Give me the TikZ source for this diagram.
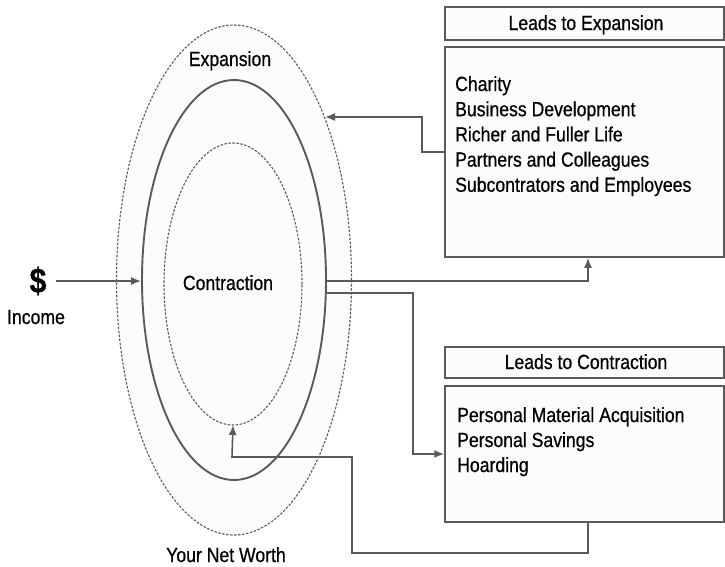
\documentclass[tikz,border=0pt]{standalone}
\usepackage{fontspec}
\setmainfont[FakeStretch=0.86,FakeBold=0.6]{Liberation Sans}
\usetikzlibrary{arrows.meta,shapes.geometric}
\definecolor{ln}{HTML}{5A5A5A}
\definecolor{fl}{HTML}{FCFCFC}
\tikzset{
  ring/.style={ellipse,draw=ln,fill=fl,inner sep=0pt},
  dashring/.style={ring,line width=1.1pt,dash pattern=on 2.5pt off 1.5pt},
  solidring/.style={ring,line width=1.9pt},
  box/.style={draw=ln,fill=fl,line width=1.5pt,minimum width=279pt,inner sep=0pt},
  conn/.style={draw=ln,line width=1.6pt,-{Latex[length=10pt,width=8pt]}},
  lbl/.style={font=\fontsize{20.5}{24}\selectfont,inner sep=0pt,anchor=base},
  lst/.style={font=\fontsize{20.5}{25.2}\selectfont,align=left,inner sep=0pt,anchor=base west}
}
\begin{document}
\begin{tikzpicture}[x=1pt,y=-1pt]
\useasboundingbox (0,0) rectangle (725,566);
% rings
\node[dashring,minimum width=235pt,minimum height=510pt] (outer) at (234,280) {};
\node[solidring,minimum width=184pt,minimum height=400pt] (middle) at (234,280) {};
\node[dashring,minimum width=138pt,minimum height=282pt] (inner) at (233,284) {};
\node[lbl] (exp) at (230,66) {Expansion};
\node[lbl] (con) at (228,290) {Contraction};
\node[lbl] (nw) at (226,562) {Your Net Worth};
\node[inner sep=0pt,font=\bfseries\fontsize{35}{37}\selectfont] (dollar) at (38,281) {\$};
\node[lbl] (inc) at (36,324) {Income};
% boxes
\node[box,minimum height=33pt] (eh) at (584.5,23.5) {};
\node[lbl] (ehl) at (586,30) {Leads to Expansion};
\node[box,minimum height=210pt] (eb) at (584.5,152) {};
\node[lst] (ebl) at (455,191.8) {Charity\\Business Development\\Richer and Fuller Life\\Partners and Colleagues\\Subcontrators and Employees};
\node[box,minimum height=31pt] (ch) at (584.5,362.5) {};
\node[lbl] (chl) at (586,369) {Leads to Contraction};
\node[box,minimum height=136pt] (cb) at (584.5,454) {};
\node[lst,font=\fontsize{20.5}{25}\selectfont] (cbl) at (457,472) {Personal Material Acquisition\\Personal Savings\\Hoarding};
% connector end points
\coordinate (oe) at (325,117);
\coordinate (m1) at (326,281);
\coordinate (m2) at (326,293);
\coordinate (ib) at (233,425);
% connectors
\draw[conn] ([xshift=9pt]dollar.east |- 0,281) -- (middle.west |- 0,281);
\draw[conn] (eb.west |- 0,152) -- (422,152) -- (422,117) -- (oe);
\draw[conn] (m1) -- (588,281) -- (eb.south -| 588,0);
\draw[conn] (m2) -- (413,293) -- (413,454) -- (cb.west |- 0,454);
\draw[conn] (cb.south -| 588,0) -- (588,553) -- (352,553) -- (352,457) -- (232,457) -- (ib);
\end{tikzpicture}
\end{document}
